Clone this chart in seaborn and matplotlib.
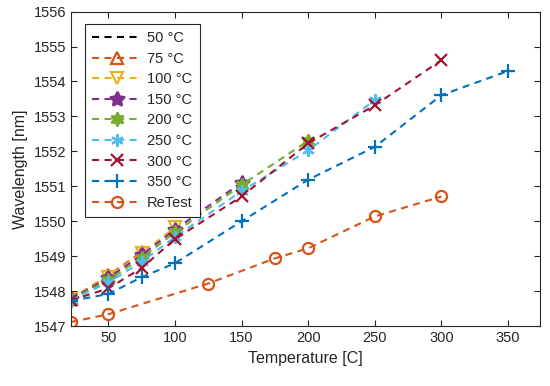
import matplotlib
matplotlib.use("Agg")
import matplotlib.pyplot as plt
import seaborn as sns
import numpy as np

sns.set_style("white")
plt.rcParams['font.family'] = ['Liberation Sans', 'DejaVu Sans']

labels = ["50 °C", "75 °C", "100 °C", "150 °C", "200 °C", "250 °C", "300 °C", "350 °C", "ReTest"]

x_50 = [22, 50]
y_50 = [1547.75, 1548.40]
x_75 = [22, 50, 75]
y_75 = [1547.78, 1548.45, 1549.12]
x_100 = [22, 50, 75, 100]
y_100 = [1547.78, 1548.42, 1549.08, 1549.83]
x_150 = [22, 50, 75, 100, 150]
y_150 = [1547.77, 1548.38, 1549.03, 1549.76, 1551.11]
x_200 = [22, 50, 75, 100, 150, 200]
y_200 = [1547.75, 1548.32, 1548.95, 1549.68, 1551.04, 1552.30]
x_250 = [22, 50, 75, 100, 150, 200, 250]
y_250 = [1547.75, 1548.25, 1548.84, 1549.55, 1550.86, 1552.03, 1553.47]
x_300 = [22, 50, 75, 100, 150, 200, 250, 300]
y_300 = [1547.74, 1548.08, 1548.66, 1549.49, 1550.71, 1552.23, 1553.32, 1554.61]
x_350 = [22, 50, 75, 100, 150, 200, 250, 300, 350]
y_350 = [1547.72, 1547.92, 1548.40, 1548.80, 1550.00, 1551.19, 1552.13, 1553.61, 1554.30]
x_re = [22, 50, 125, 175, 200, 250, 300]
y_re = [1547.12, 1547.34, 1548.22, 1548.94, 1549.23, 1550.14, 1550.71]

xs = [x_50, x_75, x_100, x_150, x_200, x_250, x_300, x_350, x_re]
ys = [y_50, y_75, y_100, y_150, y_200, y_250, y_300, y_350, y_re]

colors = ["#000000", "#D95319", "#EDB120", "#7E2F8E", "#77AC30",
          "#4DBEEE", "#A2142F", "#0072BD", "#D95319"]
markers = [None, "^", "v", (5, 1, 0), (6, 1, 0), (6, 2, 0), "x", "+", "o"]
msizes = [0, 8, 8, 11, 10, 9, 8, 10, 8]

fig = plt.figure(figsize=(5.5, 3.86), dpi=100)
ax = fig.add_axes([0.129, 0.155, 0.853, 0.815])

for xv, yv, c, m, ms, lab in zip(xs, ys, colors, markers, msizes, labels):
    kw = dict(x=xv, y=yv, ax=ax, color=c, linewidth=1.5, label=lab)
    if m is None:
        sns.lineplot(**kw)
    else:
        face = c if m in [(5, 1, 0), (6, 1, 0)] else "none"
        sns.lineplot(**kw, marker=m, markersize=ms, markeredgecolor=c,
                     markerfacecolor=face, markeredgewidth=1.6)
for line in ax.get_lines():
    line.set_linestyle((0, (3.4, 2.6)))

ax.set_xlim(22, 374)
ax.set_ylim(1547, 1556)
ax.set_xticks([50, 100, 150, 200, 250, 300, 350])
ax.set_yticks(np.arange(1547, 1557, 1))
tc = "#262626"
ax.tick_params(axis="both", which="both", direction="in", length=4, width=0.8,
               colors=tc, labelsize=10.5, top=True, right=True, bottom=True, left=True,
               labelcolor=tc)
for s in ax.spines.values():
    s.set_visible(True)
    s.set_color(tc)
    s.set_linewidth(0.8)
ax.set_xlabel("Temperature [C]", fontsize=11.5, color=tc)
ax.set_ylabel("Wavelength [nm]", fontsize=11.5, color=tc)

leg = ax.legend(loc="upper left", bbox_to_anchor=(0.014, 0.984), fontsize=10.5,
                frameon=True, fancybox=False, framealpha=1, edgecolor="#262626",
                handlelength=3.4, labelspacing=0.45, borderpad=0.5, handletextpad=0.35)
leg.get_frame().set_linewidth(0.8)
for t in leg.get_texts():
    t.set_color(tc)

fig.savefig("out.png", dpi=100)
